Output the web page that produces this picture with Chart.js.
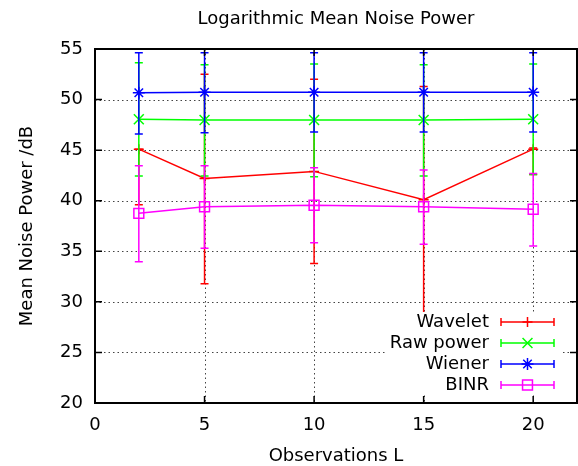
<!DOCTYPE html>
<html>
<head>
<meta charset="utf-8">
<script src="https://cdn.jsdelivr.net/npm/chart.js@4"></script>
<style>
  html, body { margin: 0; padding: 0; background: #fff; }
  #wrap { width: 578px; height: 466px; }
</style>
</head>
<body>
<div id="wrap"><canvas id="noiseChart"></canvas></div>
<script>
// observations L
const xs = [2, 5, 10, 15, 20];

// mean noise power (dB) and error bar ends
const wavelet     = [45.1, 42.2, 42.9, 40.1, 45.1];
const waveletLow  = [39.6, 31.8, 33.8, 28.9, 42.6];
const waveletHigh = [45.1, 52.5, 52.0, 51.3, 45.2];

const raw     = [48.05, 47.98, 47.98, 47.98, 48.05];
const rawLow  = [42.44, 42.44, 42.38, 42.44, 42.58];
const rawHigh = [53.65, 53.45, 53.52, 53.45, 53.52];

const wiener     = [50.68, 50.72, 50.72, 50.72, 50.72];
const wienerLow  = [46.6, 46.73, 46.8, 46.8, 46.8];
const wienerHigh = [54.64, 54.64, 54.64, 54.64, 54.64];

const binr     = [38.75, 39.4, 39.55, 39.41, 39.15];
const binrLow  = [33.97, 35.3, 35.85, 35.69, 35.52];
const binrHigh = [43.46, 43.46, 43.27, 43.04, 42.7];

const seriesNames = ['Wavelet', 'Raw power', 'Wiener', 'BINR'];
const seriesColors = ['#ff0000', '#00ff00', '#0000ff', '#ff00ff'];
const seriesMarkers = ['cross', 'crossRot', 'star', 'rect'];
const markerSizes = [5, 7, 6, 7];
const errors = [
  [waveletLow, waveletHigh],
  [rawLow, rawHigh],
  [wienerLow, wienerHigh],
  [binrLow, binrHigh]
];

const FONT = 'DejaVu Sans';
const FSIZE = 18;

function pts(ys) {
  return xs.map((x, i) => ({ x: x, y: ys[i] }));
}

/* dotted grid on the inner ticks only */
const gridLines = {
  id: 'gridLines',
  beforeDatasetsDraw(chart) {
    const { ctx, chartArea: a, scales } = chart;
    ctx.save();
    ctx.strokeStyle = '#444';
    ctx.lineWidth = 1;
    ctx.setLineDash([1.5, 3]);
    scales.y.ticks.forEach(t => {
      if (t.value <= scales.y.min || t.value >= scales.y.max) return;
      const py = Math.round(scales.y.getPixelForValue(t.value)) + 0.5;
      ctx.beginPath(); ctx.moveTo(a.left, py); ctx.lineTo(a.right, py); ctx.stroke();
    });
    scales.x.ticks.forEach(t => {
      if (t.value <= scales.x.min || t.value >= scales.x.max) return;
      const px = Math.round(scales.x.getPixelForValue(t.value)) + 0.5;
      ctx.beginPath(); ctx.moveTo(px, a.top); ctx.lineTo(px, a.bottom); ctx.stroke();
    });
    ctx.restore();
  }
};

/* error bars, drawn just before each series' own line */
const errorBars = {
  id: 'errorBars',
  beforeDatasetDraw(chart, args) {
    const { ctx, scales } = chart;
    const [lo, hi] = errors[args.index];
    ctx.save();
    ctx.strokeStyle = seriesColors[args.index];
    ctx.lineWidth = 1.5;
    xs.forEach((x, i) => {
      const px = scales.x.getPixelForValue(x);
      const top = scales.y.getPixelForValue(hi[i]);
      const bot = scales.y.getPixelForValue(lo[i]);
      ctx.beginPath();
      ctx.moveTo(px, top); ctx.lineTo(px, bot);
      ctx.moveTo(px - 4, top); ctx.lineTo(px + 4, top);
      ctx.moveTo(px - 4, bot); ctx.lineTo(px + 4, bot);
      ctx.stroke();
    });
    ctx.restore();
  }
};

/* gnuplot style key with error bar samples */
const keyBox = {
  id: 'keyBox',
  afterDatasetsDraw(chart) {
    const ctx = chart.ctx;
    ctx.save();
    ctx.fillStyle = '#fff';
    ctx.fillRect(385, 312, 178, 82);
    ctx.font = FSIZE + 'px "' + FONT + '"';
    ctx.textAlign = 'right';
    ctx.textBaseline = 'middle';
    seriesNames.forEach((name, i) => {
      const y = 322 + i * 21;
      ctx.fillStyle = '#000';
      ctx.fillText(name, 489, y);
      ctx.strokeStyle = seriesColors[i];
      ctx.lineWidth = 1.5;
      ctx.beginPath();
      ctx.moveTo(501, y); ctx.lineTo(554, y);
      ctx.moveTo(501, y - 4); ctx.lineTo(501, y + 4);
      ctx.moveTo(554, y - 4); ctx.lineTo(554, y + 4);
      ctx.stroke();
      ctx.fillStyle = 'rgba(0,0,0,0)';
      Chart.helpers.drawPoint(ctx, {
        pointStyle: seriesMarkers[i], radius: markerSizes[i], borderWidth: 1.5
      }, 527.5, y);
    });
    ctx.restore();
  }
};

/* border, inward ticks on all sides, and the title */
const frame = {
  id: 'frame',
  afterDraw(chart) {
    const { ctx, chartArea: a, scales } = chart;
    ctx.save();
    ctx.strokeStyle = '#000';
    ctx.lineWidth = 1.5;
    ctx.beginPath();
    scales.y.ticks.forEach(t => {
      const py = scales.y.getPixelForValue(t.value);
      ctx.moveTo(a.left, py); ctx.lineTo(a.left + 7, py);
      ctx.moveTo(a.right, py); ctx.lineTo(a.right - 7, py);
    });
    scales.x.ticks.forEach(t => {
      const px = scales.x.getPixelForValue(t.value);
      ctx.moveTo(px, a.bottom); ctx.lineTo(px, a.bottom - 7);
      ctx.moveTo(px, a.top); ctx.lineTo(px, a.top + 7);
    });
    ctx.stroke();
    ctx.lineWidth = 2;
    ctx.strokeRect(a.left, a.top, a.right - a.left, a.bottom - a.top);
    ctx.fillStyle = '#000';
    ctx.font = FSIZE + 'px "' + FONT + '"';
    ctx.textAlign = 'center';
    ctx.textBaseline = 'middle';
    ctx.fillText('Logarithmic Mean Noise Power', (a.left + a.right) / 2, 19);
    ctx.restore();
  }
};

const seriesValues = [wavelet, raw, wiener, binr];

new Chart(document.getElementById('noiseChart'), {
  type: 'line',
  data: {
    datasets: seriesValues.map((vals, i) => ({
      label: seriesNames[i],
      data: pts(vals),
      borderColor: seriesColors[i],
      backgroundColor: 'transparent',
      borderWidth: 1.5,
      pointStyle: seriesMarkers[i],
      pointRadius: markerSizes[i],
      pointBorderWidth: 1.5,
      pointBorderColor: seriesColors[i],
      pointBackgroundColor: 'transparent',
      tension: 0,
      order: 4 - i
    }))
  },
  options: {
    responsive: true,
    maintainAspectRatio: false,
    animation: false,
    layout: { autoPadding: false, padding: { top: 49, right: 1, left: 0, bottom: 0 } },
    plugins: {
      legend: { display: false },
      tooltip: { enabled: false },
      title: { display: false }
    },
    scales: {
      x: {
        type: 'linear',
        min: 0,
        max: 22,
        grid: { display: false, drawTicks: false },
        border: { display: false },
        afterFit: s => { s.height = 63; s.paddingRight = 0; s.paddingLeft = 0; },
        afterBuildTicks: s => { s.ticks = s.ticks.filter(t => t.value % 5 === 0); },
        ticks: {
          stepSize: 5,
          padding: 12,
          color: '#000',
          font: { family: FONT, size: FSIZE }
        },
        title: {
          display: true,
          text: 'Observations L',
          color: '#000',
          padding: { top: 0, bottom: -1 },
          font: { family: FONT, size: FSIZE }
        }
      },
      y: {
        min: 20,
        max: 55,
        grid: { display: false, drawTicks: false },
        border: { display: false },
        afterFit: s => { s.width = 95; s.paddingTop = 0; s.paddingBottom = 0; },
        ticks: {
          stepSize: 5,
          padding: 12,
          color: '#000',
          font: { family: FONT, size: FSIZE }
        },
        title: {
          display: true,
          text: 'Mean Noise Power /dB',
          color: '#000',
          padding: { top: 17, bottom: 0 },
          font: { family: FONT, size: FSIZE }
        }
      }
    }
  },
  plugins: [gridLines, errorBars, keyBox, frame]
});
</script>
</body>
</html>
